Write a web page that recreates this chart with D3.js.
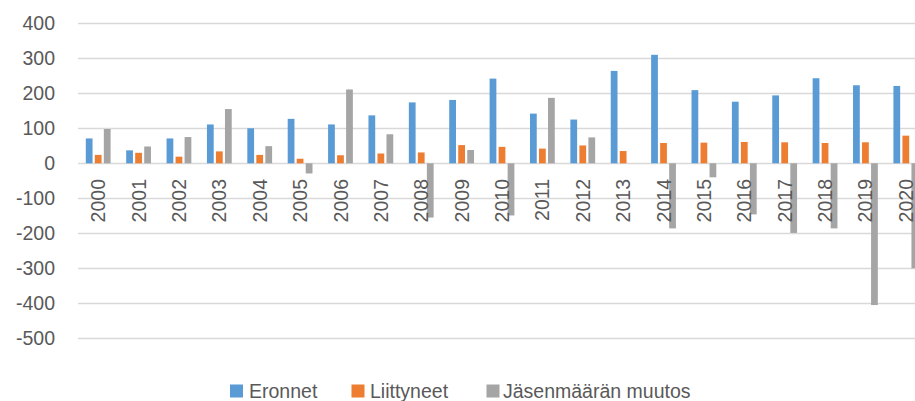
<!DOCTYPE html>
<html>
<head>
<meta charset="utf-8">
<script src="https://cdn.jsdelivr.net/npm/d3@7"></script>
<style>
  html, body { margin: 0; padding: 0; background: #fff; }
  svg { display: block; }
  text { font-family: "Liberation Sans", Arial, sans-serif; fill: #595959; }
</style>
</head>
<body>
<svg id="chart" width="915" height="401"></svg>
<script>
const years = ["2000","2001","2002","2003","2004","2005","2006","2007","2008","2009","2010",
               "2011","2012","2013","2014","2015","2016","2017","2018","2019","2020"];
const seriesNames = ["Eronnet", "Liittyneet", "Jäsenmäärän muutos"];
const eronnet    = [71, 37, 71, 111, 100, 127, 111, 137, 174, 181, 242, 142, 125, 264, 310, 209, 176, 194, 243, 223, 221];
const liittyneet = [24, 30, 19, 34, 24, 13, 23, 28, 31, 52, 47, 42, 51, 35, 58, 59, 61, 60, 58, 60, 79];
const muutos     = [98, 48, 75, 155, 49, -29, 211, 83, -155, 38, -149, 187, 74, 0, -186, -40, -146, -199, -186, -405, -300];
const yTicks = [400, 300, 200, 100, 0, -100, -200, -300, -400, -500];
const colors = ["#5B9BD5", "#ED7D31", "#A5A5A5"];

const svg = d3.select("#chart");
const W = 915, H = 401;
const plotLeft = 78, plotRight = 926;

const y = d3.scaleLinear().domain([-500, 400]).range([338.3, 23.3]);
const x0 = d3.scaleBand().domain(years).range([plotLeft, plotRight]).padding(0);
const bw = x0.bandwidth();
const x1 = d3.scaleBand().domain(seriesNames).range([bw * 0.193, bw * 0.807]).paddingInner(0.25).paddingOuter(0);

const defs = svg.append("defs");
defs.append("clipPath").attr("id", "clip").append("rect")
  .attr("x", 0).attr("y", 0).attr("width", W).attr("height", H);

// gridlines
svg.append("g").selectAll("line").data(yTicks).join("line")
  .attr("x1", plotLeft).attr("x2", W)
  .attr("y1", d => Math.round(y(d)) + 0.5).attr("y2", d => Math.round(y(d)) + 0.5)
  .attr("stroke", "#D9D9D9").attr("stroke-width", 1.3);

// y labels
svg.append("g").selectAll("text").data(yTicks).join("text")
  .attr("x", 55).attr("y", d => y(d))
  .attr("dy", "0.36em")
  .attr("text-anchor", "end")
  .style("font-size", "19.5px")
  .text(d => d);

// bars
const allSeries = [eronnet, liittyneet, muutos];
const g = svg.append("g").attr("clip-path", "url(#clip)");
allSeries.forEach((vals, si) => {
  g.append("g").selectAll("rect").data(vals.map((v, i) => ({ v, year: years[i] }))).join("rect")
    .attr("x", d => x0(d.year) + x1(seriesNames[si]))
    .attr("width", x1.bandwidth())
    .attr("y", d => y(Math.max(0, d.v)))
    .attr("height", d => Math.abs(y(d.v) - y(0)))
    .attr("fill", colors[si]);
});

// x labels (rotated)
svg.append("g").selectAll("text").data(years).join("text")
  .attr("transform", d => `translate(${x0(d) + bw / 2},179) rotate(-90)`)
  .attr("dy", "0.36em")
  .attr("text-anchor", "end")
  .style("font-size", "19.5px")
  .text(d => d);

// legend
const legendItems = [
  { name: seriesNames[0], sx: 230, tx: 249 },
  { name: seriesNames[1], sx: 351.5, tx: 370 },
  { name: seriesNames[2], sx: 486.5, tx: 503 }
];
const lg = svg.append("g");
legendItems.forEach((d, i) => {
  lg.append("rect").attr("x", d.sx).attr("y", 384.5).attr("width", 13).attr("height", 13).attr("fill", colors[i]);
  lg.append("text").attr("x", d.tx).attr("y", 397.5).style("font-size", "19.5px").text(d.name);
});
</script>
</body>
</html>
